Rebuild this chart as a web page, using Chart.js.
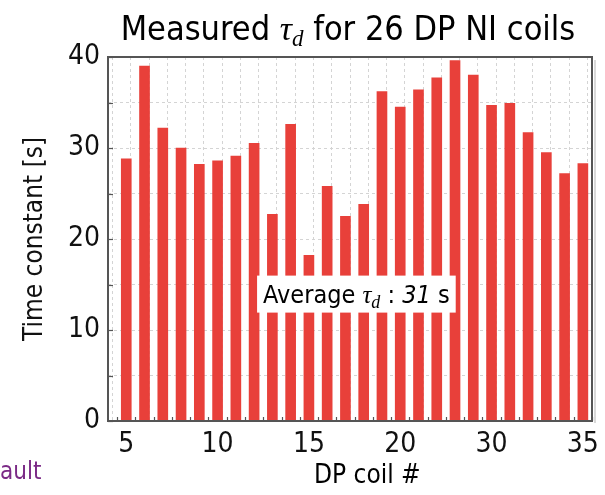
<!DOCTYPE html>
<html>
<head>
<meta charset="utf-8">
<title>Measured tau_d for 26 DP NI coils</title>
<script src="https://cdn.jsdelivr.net/npm/chart.js@4.4.1/dist/chart.umd.min.js"></script>
<style>
  html, body { margin: 0; padding: 0; background: #fff; }
  #wrap { width: 605px; height: 495px; position: relative; }
</style>
</head>
<body>
<div id="wrap"><canvas id="chart" width="605" height="495"></canvas></div>
<script>
// Coil numbers of the 26 measured double pancakes
const coilNumbers = [5, 6, 7, 8, 9, 10, 11, 12, 13, 14, 15, 16, 17, 18, 19, 20,
                     22, 24, 26, 28, 30, 31, 32, 33, 34, 35];
// Measured time constant per coil [s]
const tauValues = [28.8, 39.0, 32.2, 30.0, 28.2, 28.6, 29.1, 30.5, 22.7, 32.6, 18.2, 25.8, 22.5,
                   23.8, 36.2, 34.5, 36.4, 37.7, 39.6, 38.0, 34.7, 34.9, 31.7, 29.5, 27.2, 28.3];
// Coils whose number is printed under the axis
const labelledCoils = [5, 10, 15, 20, 30, 35];
const yTickLabels = [0, 10, 20, 30, 40];

const NARROW = "'Liberation Sans Narrow', 'Arial Narrow', 'DejaVu Sans Condensed', sans-serif";
const SERIF = "'Liberation Serif', 'DejaVu Serif', serif";

const average = tauValues.reduce((a, b) => a + b, 0) / tauValues.length;

// bar position on the x axis = order of the coil (1..26)
const points = tauValues.map((v, i) => ({ x: i + 1, y: v }));

// draws a run of text pieces with different fonts, returns total width
function drawPieces(ctx, pieces, x, y, measureOnly) {
    let cx = x;
    pieces.forEach(p => {
        ctx.font = p.font;
        if (!measureOnly) {
            ctx.fillText(p.text, cx, y + (p.dy || 0));
        }
        cx += ctx.measureText(p.text).width;
    });
    return cx - x;
}

const textPlugin = {
    id: 'textPlugin',
    beforeDatasetsDraw(chart) {
        const { ctx, chartArea } = chart;
        const xs = chart.scales.x;
        ctx.save();
        // short inward tick marks on the left and bottom edges
        ctx.strokeStyle = '#555';
        ctx.lineWidth = 1.2;
        chart.scales.y.ticks.forEach(t => {
            const py = Math.round(chart.scales.y.getPixelForValue(t.value)) + 0.5;
            ctx.beginPath();
            ctx.moveTo(chartArea.left, py);
            ctx.lineTo(chartArea.left + 5, py);
            ctx.stroke();
        });
        xs.ticks.forEach(t => {
            if (t.value % 1 !== 0.5) return;
            const px = Math.round(xs.getPixelForValue(t.value)) + 0.5;
            ctx.beginPath();
            ctx.moveTo(px, chartArea.bottom);
            ctx.lineTo(px, chartArea.bottom - 4);
            ctx.stroke();
        });
        ctx.restore();
    },
    afterDraw(chart) {
        const { ctx, chartArea } = chart;
        const xs = chart.scales.x;
        const ys = chart.scales.y;
        ctx.save();

        // frame around the plot
        ctx.strokeStyle = '#555';
        ctx.lineWidth = 2;
        ctx.strokeRect(chartArea.left, chartArea.top, chartArea.right - chartArea.left, chartArea.bottom - chartArea.top);
        ctx.strokeStyle = '#ccc';
        ctx.lineWidth = 1.5;
        ctx.beginPath();
        ctx.moveTo(chartArea.right + 3, chartArea.top + 3);
        ctx.lineTo(chartArea.right + 3, chartArea.bottom + 2);
        ctx.stroke();

        ctx.fillStyle = '#000';
        ctx.textBaseline = 'alphabetic';

        // title
        const title = [
            { text: 'Measured ', font: '34px ' + NARROW },
            { text: 'τ', font: 'italic 34px ' + SERIF },
            { text: 'd', font: 'italic 23px ' + SERIF, dy: 6 },
            { text: ' for 26 DP NI coils', font: '34px ' + NARROW }
        ];
        const tw = drawPieces(ctx, title, 0, 0, true);
        drawPieces(ctx, title, 348 - tw / 2, 40);

        // x axis title
        ctx.font = '26px ' + NARROW;
        ctx.textAlign = 'center';
        ctx.fillText('DP coil #', xs.getPixelForValue(14.2), 483);
        ctx.textAlign = 'left';

        // average label box
        const avgText = [
            { text: 'Average ', font: '25px ' + NARROW },
            { text: 'τ', font: 'italic 25px ' + SERIF },
            { text: 'd', font: 'italic 18px ' + SERIF, dy: 5 },
            { text: ' : ', font: '25px ' + NARROW },
            { text: String(Math.round(average)), font: 'italic 25px ' + NARROW },
            { text: ' s', font: '25px ' + NARROW }
        ];
        const aw = drawPieces(ctx, avgText, 0, 0, true);
        const cx = xs.getPixelForValue(13.6);
        const cy = ys.getPixelForValue(14);
        ctx.fillStyle = '#fff';
        ctx.fillRect(cx - aw / 2 - 6, cy - 18, aw + 12, 37);
        ctx.fillStyle = '#000';
        drawPieces(ctx, avgText, cx - aw / 2, cy + 9);

        // leftover slide text at the bottom left
        ctx.fillStyle = '#7b2a86';
        ctx.font = '24px ' + NARROW;
        ctx.fillText('ault', 0, 479);

        ctx.restore();
    }
};

const ctx = document.getElementById('chart').getContext('2d');

const tauChart = new Chart(ctx, {
    type: 'bar',
    data: {
        datasets: [{
            label: 'tau_d',
            data: points,
            backgroundColor: '#e8403a',
            borderWidth: 0,
            barThickness: 10
        }]
    },
    options: {
        responsive: false,
        animation: false,
        layout: { padding: { top: 57, right: 13, left: 0, bottom: 0 } },
        plugins: {
            legend: { display: false },
            tooltip: { enabled: false }
        },
        scales: {
            x: {
                type: 'linear',
                min: 0,
                max: 26.5,
                offset: false,
                afterFit: s => { s.height = 74; },
                // in v4 the grid line dash lives under border
                border: { display: false, dash: [3, 3] },
                grid: {
                    drawTicks: false,
                    color: c => (c.tick && c.tick.value % 1 === 0.5) ? '#d4d4d4' : 'rgba(0,0,0,0)',
                    lineWidth: 1
                },
                ticks: {
                    stepSize: 0.5,
                    autoSkip: false,
                    maxRotation: 0,
                    padding: 7,
                    color: '#111',
                    font: { family: NARROW, size: 28 },
                    callback: v => {
                        if (!Number.isInteger(v) || v < 1) return '';
                        const coil = coilNumbers[v - 1];
                        return labelledCoils.includes(coil) ? String(coil) : '';
                    }
                }
            },
            y: {
                min: 0,
                max: 40,
                afterFit: s => { s.width = 108; },
                border: { display: false, dash: [3, 3] },
                grid: {
                    drawTicks: false,
                    color: '#d4d4d4',
                    lineWidth: 1
                },
                ticks: {
                    stepSize: 2.5,
                    padding: 8,
                    color: '#111',
                    font: { family: NARROW, size: 28 },
                    callback: v => yTickLabels.includes(v) ? String(v) : ''
                },
                title: {
                    display: true,
                    text: 'Time constant [s]',
                    color: '#111',
                    font: { family: NARROW, size: 26 },
                    padding: { top: 20, bottom: 0 }
                }
            }
        }
    },
    plugins: [textPlugin]
});
</script>
</body>
</html>
